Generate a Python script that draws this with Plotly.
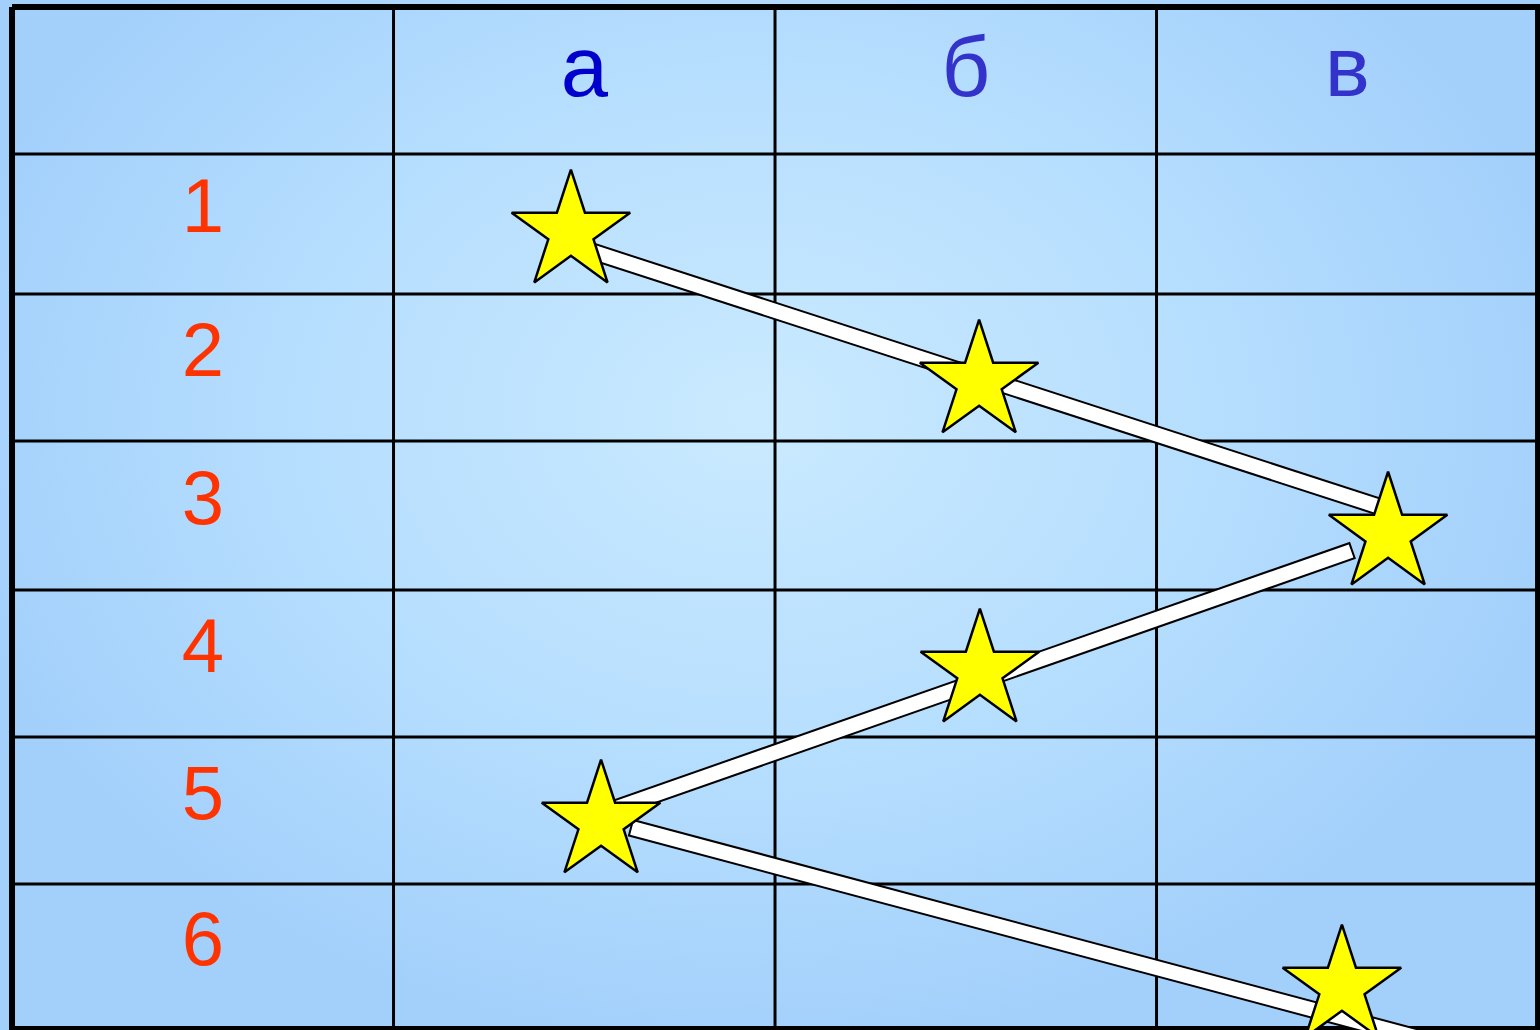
import plotly.graph_objects as go

# table layout (column / row borders in axis units)
col_labels = ['а', 'б', 'в']
col_colors = ['#0000CC', '#3333CC', '#3333CC']
row_labels = ['1', '2', '3', '4', '5', '6']
col_edges = [-0.5, 0.5, 1.5, 2.5, 3.5]
row_edges = [-0.5, 0.507, 1.466, 2.473, 3.493, 4.5, 5.507, 6.5]

# stars (column, row)
star_x = [0.965, 2.035, 3.107, 2.037, 1.044, 2.986]
star_y = [1.041, 2.068, 3.110, 4.048, 5.082, 6.212]

# white bars joining the stars: start and end points
bar_x0 = [0.976, 3.010, 1.125]
bar_y0 = [1.137, 3.226, 5.123]
bar_x1 = [3.078, 1.054, 3.217]
bar_y1 = [2.918, 5.014, 6.582]

X_RANGE = [-0.5315, 3.5052]
Y_RANGE = [6.507, -0.548]

fig = go.Figure()

# background with a soft radial gradient
fig.add_trace(go.Scatter(
    x=[-0.7, 3.6, 3.6, -0.7, -0.7], y=[-2.0, -2.0, 6.6, 6.6, -2.0],
    mode='lines', fill='toself', line=dict(width=0),
    fillgradient=dict(type='radial', colorscale=[[0, '#CAEAFF'], [0.55, '#B6DEFE'], [1, '#A3D0FB']]),
    hoverinfo='skip'))

# inner grid
gx, gy = [], []
for c in col_edges[1:-1]:
    gx += [c, c, None]
    gy += [row_edges[0], row_edges[-1], None]
for r in row_edges[1:-1]:
    gx += [col_edges[0], col_edges[-1], None]
    gy += [r, r, None]
fig.add_trace(go.Scatter(x=gx, y=gy, mode='lines', line=dict(color='black', width=3), hoverinfo='skip'))

# outer border
fig.add_trace(go.Scatter(
    x=[col_edges[0], col_edges[-1], col_edges[-1], col_edges[0], col_edges[0]],
    y=[row_edges[0], row_edges[0], row_edges[-1], row_edges[-1], row_edges[0]],
    mode='lines', line=dict(color='black', width=6), hoverinfo='skip'))

# bars: black outline then white core
bx, by, ox, oy = [], [], [], []
for x0, y0, x1, y1 in zip(bar_x0, bar_y0, bar_x1, bar_y1):
    # stretch the outline a little so the ends get a border too
    dx, dy = (x1 - x0), (y1 - y0)
    px = (dx * 381.5) ** 2 + (dy * 146) ** 2
    k = 2.0 / px ** 0.5
    ox += [x0 - dx * k, x1 + dx * k, None]
    oy += [y0 - dy * k, y1 + dy * k, None]
    bx += [x0, x1, None]
    by += [y0, y1, None]
fig.add_trace(go.Scatter(x=ox, y=oy, mode='lines', line=dict(color='black', width=18), hoverinfo='skip'))
fig.add_trace(go.Scatter(x=bx, y=by, mode='lines', line=dict(color='white', width=14), hoverinfo='skip'))

# stars
fig.add_trace(go.Scatter(
    x=star_x, y=star_y, mode='markers',
    marker=dict(symbol='star', size=89, color='#FFFF00', line=dict(color='black', width=2.5)),
    hoverinfo='skip'))

# header letters
header_y = (row_edges[0] + row_edges[1]) / 2 - 0.037
fig.add_trace(go.Scatter(
    x=[1, 2, 3], y=[header_y] * 3, mode='text', text=col_labels,
    textposition='middle center',
    textfont=dict(family='Liberation Sans, Arial', size=85, color=col_colors),
    hoverinfo='skip'))

# row numbers
row_y = [(row_edges[i] + row_edges[i + 1]) / 2 - 0.075 for i in range(1, 7)]
fig.add_trace(go.Scatter(
    x=[0] * 6, y=row_y, mode='text', text=row_labels,
    textposition='middle center',
    textfont=dict(family='Liberation Sans, Arial', size=76, color='#FF3300'),
    hoverinfo='skip'))

fig.update_layout(
    width=1540, height=1030,
    margin=dict(l=0, r=0, t=0, b=0),
    paper_bgcolor='#A9D5FC', plot_bgcolor='#A9D5FC',
    showlegend=False,
    xaxis=dict(range=X_RANGE, visible=False, fixedrange=True),
    yaxis=dict(range=Y_RANGE, visible=False, fixedrange=True),
)

fig.write_html("out.html", config={'displayModeBar': False},
               post_script="document.body.style.margin='0';document.body.style.overflow='hidden';")
